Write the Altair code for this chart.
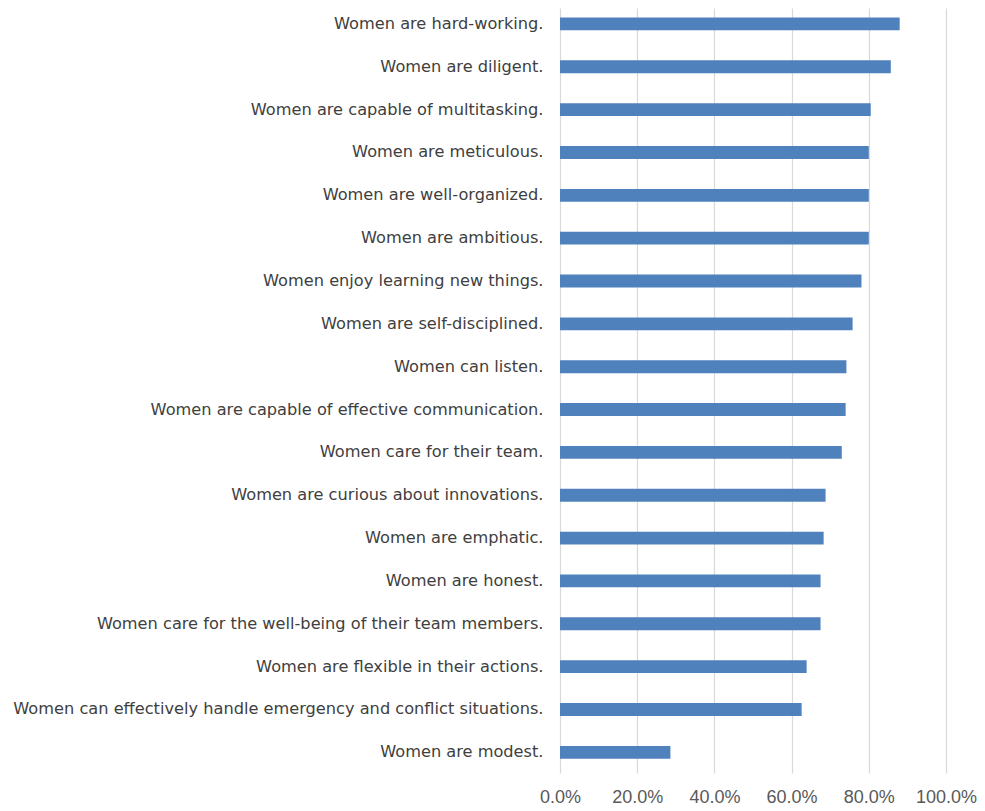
import altair as alt
import pandas as pd

statements = [
    "Women are hard-working.",
    "Women are diligent.",
    "Women are capable of multitasking.",
    "Women are meticulous.",
    "Women are well-organized.",
    "Women are ambitious.",
    "Women enjoy learning new things.",
    "Women are self-disciplined.",
    "Women can listen.",
    "Women are capable of effective communication.",
    "Women care for their team.",
    "Women are curious about innovations.",
    "Women are emphatic.",
    "Women are honest.",
    "Women care for the well-being of their team members.",
    "Women are flexible in their actions.",
    "Women can effectively handle emergency and conflict situations.",
    "Women are modest.",
]
shares = [0.880, 0.857, 0.805, 0.800, 0.800, 0.800, 0.781, 0.758, 0.742, 0.740,
          0.730, 0.688, 0.683, 0.675, 0.675, 0.639, 0.626, 0.286]
x_ticks = [0.0, 0.2, 0.4, 0.6, 0.8, 1.0]

df = pd.DataFrame({"statement": statements, "share": shares})

chart = alt.Chart(df).mark_bar(color="#4f81bd").encode(
    x=alt.X("share:Q",
            scale=alt.Scale(domain=[0, 1], nice=False),
            axis=alt.Axis(values=x_ticks, format=".1%", title=None, domain=False,
                          ticks=False, grid=True, gridColor="#d9d9d9", gridWidth=1.2,
                          labelFont="Liberation Sans", labelFontSize=18, labelColor="#595959",
                          labelPadding=15, labelOverlap=False, labelFlush=False)),
    y=alt.Y("statement:N", sort=statements,
            scale=alt.Scale(paddingInner=0.7, paddingOuter=0.277, align=0.4),
            axis=alt.Axis(title=None, domain=False, ticks=False,
                          labelFont="DejaVu Sans", labelFontSize=16.2, labelColor="#404040",
                          labelPadding=17, labelLimit=700)),
).properties(
    width=386, height=765,
    autosize=alt.AutoSizeParams(type="none"),
    padding={"left": 552, "top": 0, "right": 31, "bottom": 36},
).configure_view(stroke=None)

chart.save("out.html", embed_options={"renderer": "svg", "actions": False})
